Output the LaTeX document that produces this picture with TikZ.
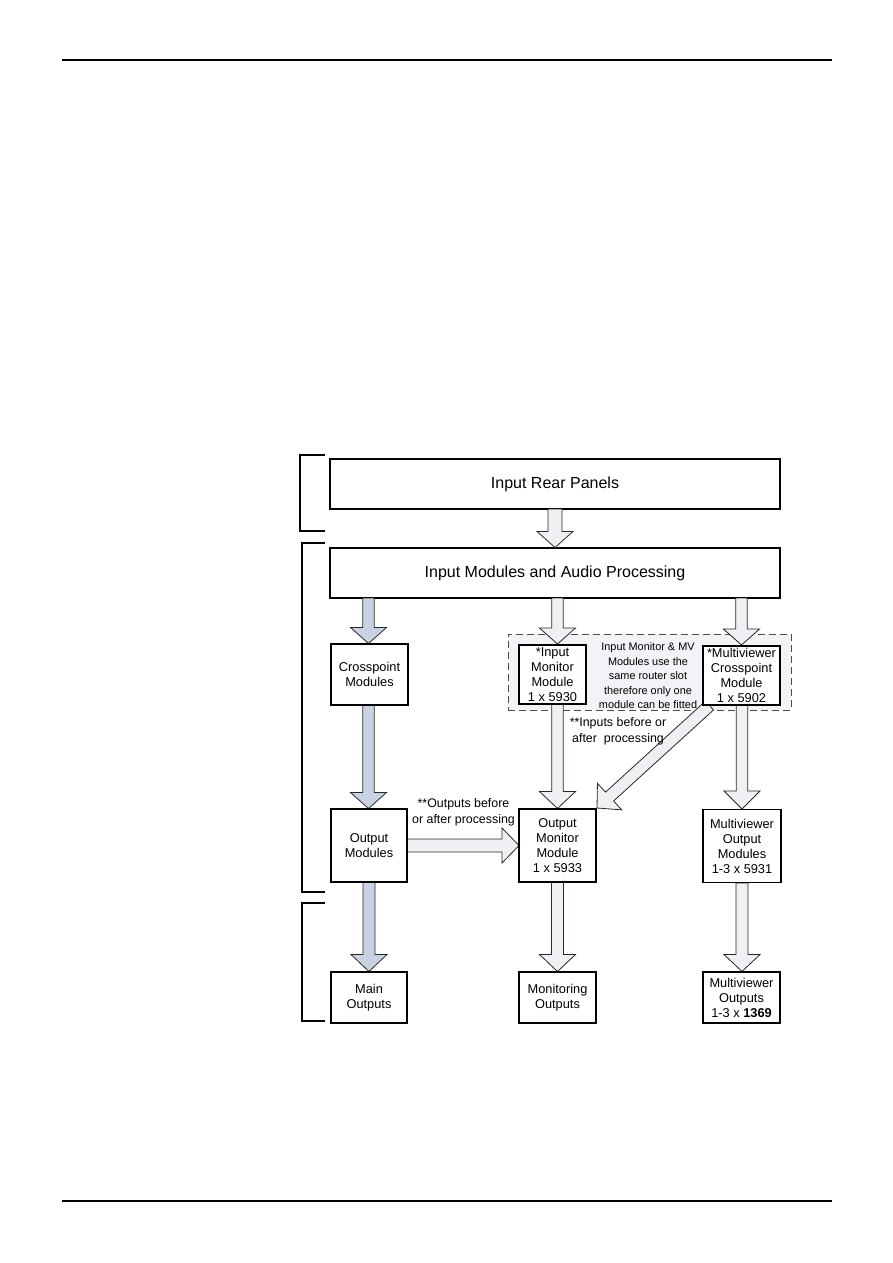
\documentclass[tikz,border=0pt]{standalone}
\usepackage{fontspec}
\setmainfont{Liberation Sans}
\usetikzlibrary{calc}
\definecolor{bluearrow}{RGB}{200,210,226}
\definecolor{lightarrow}{RGB}{238,240,244}
\definecolor{groupfill}{RGB}{241,243,247}
\definecolor{arrowedge}{RGB}{40,40,40}
\tikzset{
  box/.style={draw=black, line width=1.8pt, fill=white, align=center, inner sep=0pt,
    font=\fontsize{12.8}{15}\selectfont},
  bigbox/.style={box, minimum width=450pt, minimum height=50pt, font=\fontsize{16}{19}\selectfont},
  group/.style={draw=black!70, dashed, dash pattern=on 7pt off 4pt, line width=0.9pt, fill=groupfill, inner sep=0pt},
  note/.style={align=center, inner sep=0pt, font=\fontsize{10.9}{14.5}\selectfont},
  lab/.style={align=center, inner sep=0pt, font=\fontsize{12.4}{16}\selectfont},
  fatline/.style={draw=arrowedge, line width=0.8pt, line join=miter},
  bracket/.style={line width=1.1pt},
  pageline/.style={line width=1.4pt}
}
% fat block arrow: #1 fill, #2 start, #3 tip, #4 shaft half width, #5 head half width, #6 head length
\newcommand\fatarrow[6]{%
  \draw[fatline, fill=#1]
    ($(#2)!#4!90:(#3)$)
    -- ($($(#3)!#6!(#2)$)!#4!90:(#3)$)
    -- ($($(#3)!#6!(#2)$)!#5!90:(#3)$)
    -- (#3)
    -- ($($(#3)!#6!(#2)$)!#5!-90:(#3)$)
    -- ($($(#3)!#6!(#2)$)!#4!-90:(#3)$)
    -- ($(#2)!#4!-90:(#3)$)
    -- cycle;}
\begin{document}
\begin{tikzpicture}[x=1pt,y=-1pt]
\useasboundingbox (0,0) rectangle (893,1263);
% page rules
\draw[pageline] (62,60) -- (832,60);
\draw[pageline] (62,1201) -- (832,1201);
% brackets
\draw[bracket] (325,455) -- (300,455) -- (300,531) -- (325,531);
\draw[bracket] (325,543) -- (302,543) -- (302,892) -- (325,892);
\draw[bracket] (325,903) -- (302,903) -- (302,1021) -- (325,1021);
% dashed group
\node[group, minimum width=283pt, minimum height=76pt] (grp) at (649.5,672) {};
% main boxes
\node[bigbox] (rear) at (555,484) {Input Rear Panels};
\node[bigbox] (inmod) at (555,573) {Input Modules and Audio Processing};
\path (369.5,674.5) coordinate (xptc) (552.5,674.5) coordinate (inmonc) (741.5,675.5) coordinate (mvxc);
% arrows
\coordinate (c1) at (555,509);
\coordinate (c1e) at (555,547.5);
\fatarrow{lightarrow}{c1}{c1e}{7pt}{18pt}{16pt}
\coordinate (a1s) at (368.5,598); \coordinate (a1e) at (368.5,643.5);
\fatarrow{bluearrow}{a1s}{a1e}{5.7pt}{18pt}{16pt}
\coordinate (a2s) at (557.5,598); \coordinate (a2e) at (557.5,644);
\fatarrow{lightarrow}{a2s}{a2e}{5.7pt}{18pt}{16pt}
\coordinate (a3s) at (741.5,598); \coordinate (a3e) at (741.5,645);
\fatarrow{lightarrow}{a3s}{a3e}{5.7pt}{18pt}{16pt}
\coordinate (a4s) at (368.5,705); \coordinate (a4e) at (368.5,808.5);
\fatarrow{bluearrow}{a4s}{a4e}{5.7pt}{18pt}{16pt}
\coordinate (a5s) at (557.5,704); \coordinate (a5e) at (557.5,808.5);
\fatarrow{lightarrow}{a5s}{a5e}{5.7pt}{18pt}{17pt}
\coordinate (a6s) at (742,705); \coordinate (a6e) at (742,809);
\fatarrow{lightarrow}{a6s}{a6e}{5.7pt}{18pt}{18pt}
\coordinate (d1s) at (709.5,705.5); \coordinate (d1e) at (597,808);
\fatarrow{lightarrow}{d1s}{d1e}{6pt}{18pt}{17pt}
\coordinate (h1s) at (407,845.5); \coordinate (h1e) at (519,845.5);
\fatarrow{lightarrow}{h1s}{h1e}{6.5pt}{17.5pt}{17pt}
\coordinate (b1s) at (369,882); \coordinate (b1e) at (369,971.5);
\fatarrow{bluearrow}{b1s}{b1e}{6pt}{18pt}{17pt}
\coordinate (b2s) at (557.5,882); \coordinate (b2e) at (557.5,971.5);
\fatarrow{lightarrow}{b2s}{b2e}{6pt}{18pt}{17pt}
\coordinate (b3s) at (742,883); \coordinate (b3e) at (742,971.5);
\fatarrow{lightarrow}{b3s}{b3e}{6pt}{18pt}{17pt}
% boxes
\node[box, minimum width=77pt, minimum height=61pt] (xpt) at (xptc) {Crosspoint\\Modules};
\node[box, minimum width=67pt, minimum height=59pt] (inmon) at (inmonc) {*Input\\Monitor\\Module\\1 x 5930};
\node[box, minimum width=77pt, minimum height=59pt] (mvx) at (mvxc) {*Multiviewer\\Crosspoint\\Module\\1 x 5902};
\node[note] (gnote) at (648,676) {Input Monitor \& MV\\Modules use the\\same router slot\\therefore only one\\module can be fitted};
\node[box, minimum width=76pt, minimum height=73pt] (outmod) at (369,845.5) {Output\\Modules};
\node[box, minimum width=77pt, minimum height=73pt] (outmon) at (557.5,845.5) {Output\\Monitor\\Module\\1 x 5933};
\node[box, minimum width=78pt, minimum height=73pt] (mvout) at (742,846) {Multiviewer\\Output\\Modules\\1-3 x 5931};
\node[box, minimum width=76pt, minimum height=51pt] (mainout) at (369,997.5) {Main\\Outputs};
\node[box, minimum width=77pt, minimum height=51pt] (monout) at (557.5,997.5) {Monitoring\\Outputs};
\node[box, minimum width=77pt, minimum height=51pt] (mvo) at (741.5,997.5) {Multiviewer\\Outputs\\1-3 x \textbf{1369}};
% labels
\node[lab] (inlab) at (618,731) {**Inputs before or\\after\ \ processing};
\node[lab] (outlab) at (463.5,812) {**Outputs before\\or after processing};
\end{tikzpicture}
\end{document}
